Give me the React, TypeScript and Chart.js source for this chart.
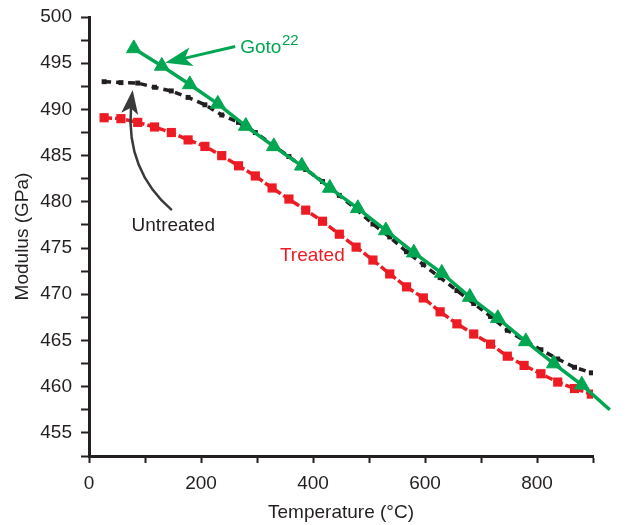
import React, { useEffect, useRef } from 'react';
import { Chart, registerables } from 'chart.js';

Chart.register(...registerables);

// ---- Data ----
const treatedTemps = [27, 57, 87, 117, 147, 177, 207, 237, 267, 297, 327, 357, 387, 417, 447, 477, 507, 537, 567, 597, 627, 657, 687, 717, 747, 777, 807, 837, 867, 897];
const treatedModulus = [489.1, 489.0, 488.6, 488.1, 487.5, 486.7, 486.0, 485.0, 483.9, 482.8, 481.5, 480.3, 479.1, 477.9, 476.5, 475.1, 473.7, 472.2, 470.8, 469.6, 468.1, 466.8, 465.7, 464.6, 463.3, 462.3, 461.4, 460.5, 459.8, 459.2];

const untreatedTemps = [27, 57, 87, 117, 147, 177, 207, 237, 267, 297, 327, 357, 387, 417, 447, 477, 507, 537, 567, 597, 627, 657, 687, 717, 747, 777, 807, 837, 867, 897];
const untreatedModulus = [493.0, 492.9, 492.85, 492.4, 492.0, 491.3, 490.5, 489.4, 488.6, 487.5, 486.2, 484.9, 483.5, 482.2, 480.7, 479.2, 477.6, 476.2, 474.6, 473.2, 471.8, 470.4, 469.0, 467.6, 466.1, 465.0, 464.0, 463.0, 462.1, 461.5];

const gotoTemps = [80, 130, 180, 230, 280, 330, 380, 430, 480, 530, 580, 630, 680, 730, 780, 830, 880, 930];
const gotoModulus = [496.6, 494.7, 492.7, 490.6, 488.2, 486.0, 483.9, 481.5, 479.3, 476.9, 474.5, 472.3, 469.7, 467.4, 464.9, 462.5, 460.2, 457.5];

const xMin = 0;
const xMax = 900;
const xStep = 100;
const xLabelEvery = 200;
const yMin = 452.5;
const yMax = 500;
const yStep = 2.5;
const yLabelEvery = 5;

const xTitle = 'Temperature (°C)';
const yTitle = 'Modulus (GPa)';

// annotation anchors in data space
const gotoLabel = { text: 'Goto', sup: '22', x: 270, y: 496.15 };
const gotoArrow = { fromX: 261, fromY: 496.8, toX: 136, toY: 495.05 };
const untreatedLabel = { text: 'Untreated', x: 76, y: 476.8 };
const untreatedArrow = { fromX: 148, fromY: 479.1, ctrlX: 66, ctrlY: 483.4, endX: 75, endY: 490.2, tipX: 78, tipY: 492.1 };
const treatedLabel = { text: 'Treated', x: 341, y: 473.6 };

const GREEN = '#00a651';
const RED = '#ed1c24';
const BLACK = '#231f20';
const FONT = "'Liberation Sans', Arial, Helvetica, sans-serif";

function drawHead(ctx: CanvasRenderingContext2D, tx: number, ty: number, dx: number, dy: number, len: number, half: number) {
  const l = Math.hypot(dx, dy);
  const ux = dx / l, uy = dy / l;
  const bx = tx - ux * len, by = ty - uy * len;
  const nx = -uy, ny = ux;
  ctx.beginPath();
  ctx.moveTo(tx, ty);
  ctx.lineTo(bx + nx * half, by + ny * half);
  ctx.lineTo(tx - ux * len * 0.75, ty - uy * len * 0.75);
  ctx.lineTo(bx - nx * half, by - ny * half);
  ctx.closePath();
  ctx.fill();
}

const annotationPlugin = {
  id: 'annotations',
  afterDatasetsDraw(chart: any) {
    const { ctx } = chart;
    const xs = chart.scales.x;
    const ys = chart.scales.y;
    const px = (v: number) => xs.getPixelForValue(v);
    const py = (v: number) => ys.getPixelForValue(v);
    ctx.save();
    ctx.textBaseline = 'alphabetic';
    ctx.textAlign = 'left';

    // Goto label
    ctx.fillStyle = GREEN;
    ctx.font = `19px ${FONT}`;
    const gx = px(gotoLabel.x), gy = py(gotoLabel.y);
    ctx.fillText(gotoLabel.text, gx, gy);
    const gw = ctx.measureText(gotoLabel.text).width;
    ctx.font = `15px ${FONT}`;
    ctx.fillText(gotoLabel.sup, gx + gw + 0.5, gy - 7.5);

    // Goto arrow
    ctx.strokeStyle = GREEN;
    ctx.fillStyle = GREEN;
    ctx.lineWidth = 3;
    const ax0 = px(gotoArrow.fromX), ay0 = py(gotoArrow.fromY);
    const ax1 = px(gotoArrow.toX), ay1 = py(gotoArrow.toY);
    const dx = ax1 - ax0, dy = ay1 - ay0;
    const L = Math.hypot(dx, dy);
    ctx.beginPath();
    ctx.moveTo(ax0, ay0);
    ctx.lineTo(ax1 - (dx / L) * 15, ay1 - (dy / L) * 15);
    ctx.stroke();
    drawHead(ctx, ax1, ay1, dx, dy, 27, 9.5);

    // Untreated label
    ctx.fillStyle = BLACK;
    ctx.font = `19px ${FONT}`;
    ctx.fillText(untreatedLabel.text, px(untreatedLabel.x), py(untreatedLabel.y));

    // Untreated curved arrow
    ctx.strokeStyle = '#3a3a3c';
    ctx.fillStyle = '#3a3a3c';
    ctx.lineWidth = 2.5;
    const ux0 = px(untreatedArrow.fromX), uy0 = py(untreatedArrow.fromY);
    const ucx = px(untreatedArrow.ctrlX), ucy = py(untreatedArrow.ctrlY);
    const ux1 = px(untreatedArrow.endX), uy1 = py(untreatedArrow.endY);
    const utx = px(untreatedArrow.tipX), uty = py(untreatedArrow.tipY);
    ctx.beginPath();
    ctx.moveTo(ux0, uy0);
    ctx.quadraticCurveTo(ucx, ucy, ux1, uy1);
    ctx.stroke();
    drawHead(ctx, utx, uty, utx - ux1 + 0.5, uty - uy1, 24, 8.5);

    // Treated label
    ctx.fillStyle = RED;
    ctx.font = `19px ${FONT}`;
    ctx.fillText(treatedLabel.text, px(treatedLabel.x), py(treatedLabel.y));

    ctx.restore();
  },
};

const isMultiple = (v: number, m: number) => Math.abs(v / m - Math.round(v / m)) < 1e-6;

export default function App() {
  const canvasRef = useRef<HTMLCanvasElement | null>(null);

  useEffect(() => {
    if (!canvasRef.current) return;
    Chart.defaults.font.family = FONT;
    const chart = new Chart(canvasRef.current, {
      type: 'line',
      data: {
        datasets: [
          {
            label: 'Goto',
            data: gotoTemps.map((t, i) => ({ x: t, y: gotoModulus[i] })),
            borderColor: GREEN,
            backgroundColor: GREEN,
            borderWidth: 3.5,
            pointStyle: 'triangle',
            pointRadius: 8.5,
            pointBorderWidth: 1,
            pointBackgroundColor: GREEN,
            pointBorderColor: GREEN,
            clip: false as any,
            order: 0,
          },
          {
            label: 'Untreated',
            data: untreatedTemps.map((t, i) => ({ x: t, y: untreatedModulus[i] })),
            borderColor: BLACK,
            backgroundColor: BLACK,
            borderWidth: 3.5,
            borderDash: [7, 5],
            pointStyle: 'rect',
            pointRadius: 3.5,
            pointBorderWidth: 0,
            pointBackgroundColor: BLACK,
            order: 2,
          },
          {
            label: 'Treated',
            data: treatedTemps.map((t, i) => ({ x: t, y: treatedModulus[i] })),
            borderColor: RED,
            backgroundColor: RED,
            borderWidth: 3.5,
            borderDash: [8, 3],
            pointStyle: 'rect',
            pointRadius: 6.5,
            pointBorderWidth: 0,
            pointBackgroundColor: RED,
            order: 1,
          },
        ],
      },
      options: {
        animation: false,
        responsive: true,
        maintainAspectRatio: false,
        layout: { padding: { top: 17, right: 33, left: 0, bottom: 0 } },
        plugins: {
          legend: { display: false },
          tooltip: { enabled: false },
        },
        elements: { line: { tension: 0 } },
        scales: {
          x: {
            type: 'linear',
            min: xMin,
            max: xMax,
            ticks: {
              stepSize: xStep,
              color: BLACK,
              font: { size: 19 },
              padding: 9,
              maxRotation: 0,
              autoSkip: false,
              callback: (v: any) => (isMultiple(Number(v), xLabelEvery) ? String(v) : ''),
            },
            grid: {
              drawOnChartArea: false,
              drawTicks: true,
              tickLength: 7,
              tickWidth: 2,
              tickColor: BLACK,
              color: BLACK,
            },
            border: { display: true, color: BLACK, width: 3 },
            title: {
              display: true,
              text: xTitle,
              color: BLACK,
              font: { size: 19 },
              padding: { top: 0, bottom: 1 },
            },
            afterFit: (scale: any) => {
              scale.height = 69;
            },
          },
          y: {
            type: 'linear',
            min: yMin,
            max: yMax,
            ticks: {
              stepSize: yStep,
              color: BLACK,
              font: { size: 19, lineHeight: 0.8 },
              padding: 9,
              autoSkip: false,
              callback: (v: any) => (isMultiple(Number(v), yLabelEvery) ? String(v) : ''),
            },
            grid: {
              drawOnChartArea: false,
              drawTicks: true,
              tickLength: 8,
              tickWidth: 2,
              tickColor: BLACK,
              color: BLACK,
            },
            border: { display: true, color: BLACK, width: 3 },
            title: {
              display: true,
              text: yTitle,
              color: BLACK,
              font: { size: 19 },
              padding: { top: 11, bottom: 0 },
            },
            afterFit: (scale: any) => {
              scale.width = 89;
            },
          },
        },
      },
      plugins: [annotationPlugin],
    });
    return () => chart.destroy();
  }, []);

  return (
    <div style={{ position: 'absolute', left: 0, top: 0, width: 626, height: 525, background: '#fff' }}>
      <canvas ref={canvasRef} />
    </div>
  );
}
